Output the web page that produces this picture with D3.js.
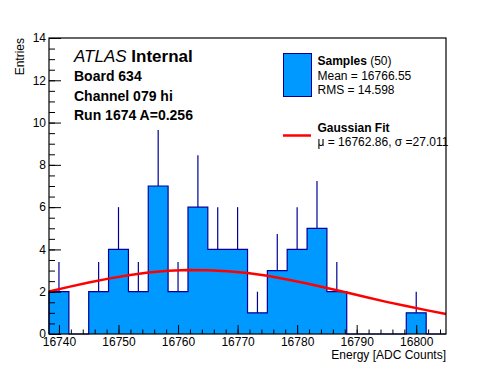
<!DOCTYPE html>
<html>
<head>
<meta charset="utf-8">
<script src="https://cdn.jsdelivr.net/npm/d3@7"></script>
<style>
  body { margin: 0; background: #fff; }
  text { font-family: "Liberation Sans", Arial, Helvetica, sans-serif; }
</style>
</head>
<body>
<div id="chart"></div>
<script>
// ---- histogram data ----
const binEdges = [16738.33, 16741.67, 16745, 16748.33, 16751.67, 16755, 16758.33, 16761.67,
                  16765, 16768.33, 16771.67, 16775, 16778.33, 16781.67, 16785, 16788.33,
                  16791.67, 16795, 16798.33, 16801.67, 16805];
const counts = [2, 0, 2, 4, 2, 7, 2, 6, 4, 4, 1, 3, 4, 5, 2, 0, 0, 0, 1, 0];
const errors = [1.41, 0, 1.41, 2, 1.41, 2.65, 1.41, 2.45, 2, 2, 1, 1.73, 2, 2.24, 1.41, 0, 0, 0, 1, 0];

// gaussian fit curve, sampled
const fitX = [16738.33, 16741.67, 16745, 16748.33, 16751.67, 16755, 16758.33, 16761.67,
              16765, 16768.33, 16771.67, 16775, 16778.33, 16781.67, 16785, 16788.33,
              16791.67, 16795, 16798.33, 16801.67, 16805];
const fitY = [2.01, 2.23, 2.44, 2.62, 2.78, 2.91, 2.99, 3.03, 3.02, 2.97, 2.88, 2.75, 2.58,
              2.39, 2.18, 1.96, 1.74, 1.52, 1.32, 1.13, 0.95];

const xMajor = [16740, 16750, 16760, 16770, 16780, 16790, 16800];
const yMajor = [0, 2, 4, 6, 8, 10, 12, 14];

const infoLines = ["Board 634", "Channel 079 hi", "Run 1674 A=0.256"];

const width = 496, height = 372;
const frame = {left: 49, right: 446, top: 38, bottom: 334};
const fillCol = "#0099ff", lineCol = "#000099";

const svg = d3.select("#chart").append("svg")
    .attr("width", width)
    .attr("height", height);

svg.append("rect").attr("width", width).attr("height", height).attr("fill", "#fff");

const x = d3.scaleLinear().domain([16738.33, 16805]).range([frame.left, frame.right]);
const y = d3.scaleLinear().domain([0, 14]).range([frame.bottom, frame.top]);

// histogram as stepped area + outline
const steps = binEdges.map((e, i) => ({x: e, n: i < counts.length ? counts[i] : counts[counts.length - 1]}));

svg.append("path")
    .datum(steps)
    .attr("fill", fillCol)
    .attr("d", d3.area().curve(d3.curveStepAfter).x(d => x(d.x)).y0(y(0)).y1(d => y(d.n)));

svg.append("path")
    .datum([{x: binEdges[0], n: 0}, ...steps, {x: binEdges[binEdges.length - 1], n: 0}])
    .attr("fill", "none")
    .attr("stroke", lineCol)
    .attr("stroke-width", 1.2)
    .attr("d", d3.line().curve(d3.curveStepAfter).x(d => x(d.x)).y(d => y(d.n)));

// error bars (upper half, the lower half is hidden in the fill)
svg.append("g")
    .selectAll("line")
    .data(counts.map((n, i) => ({n, e: errors[i], c: (binEdges[i] + binEdges[i + 1]) / 2})).filter(d => d.n > 0))
    .enter()
    .append("line")
    .attr("x1", d => x(d.c)).attr("x2", d => x(d.c))
    .attr("y1", d => y(d.n)).attr("y2", d => y(d.n + d.e))
    .attr("stroke", lineCol)
    .attr("stroke-width", 1.2);

// fit curve
svg.append("path")
    .datum(fitX.map((v, i) => [v, fitY[i]]))
    .attr("fill", "none")
    .attr("stroke", "#ff0000")
    .attr("stroke-width", 2.5)
    .attr("d", d3.line().x(d => x(d[0])).y(d => y(d[1])));

// axes
const xMinor = d3.range(16740, 16805, 2);
const yMinor = d3.range(0, 14.01, 0.5);

function styleAxis(g) {
    g.select(".domain").remove();
    g.selectAll("line").attr("stroke", "#000");
    g.selectAll("text").attr("fill", "#000").style("font-size", "12px")
        .style("font-family", "'Liberation Sans', Arial, sans-serif");
}

svg.append("g")
    .attr("transform", `translate(0,${frame.bottom})`)
    .call(d3.axisBottom(x).tickValues(xMinor).tickSize(-4.5).tickFormat(""))
    .call(styleAxis);
svg.append("g")
    .attr("transform", `translate(0,${frame.bottom})`)
    .call(d3.axisBottom(x).tickValues(xMajor).tickSize(-9).tickPadding(3).tickFormat(d3.format("d")))
    .call(styleAxis);

svg.append("g")
    .attr("transform", `translate(${frame.left},0)`)
    .call(d3.axisLeft(y).tickValues(yMinor).tickSize(-6).tickFormat(""))
    .call(styleAxis);
svg.append("g")
    .attr("transform", `translate(${frame.left},0)`)
    .call(d3.axisLeft(y).tickValues(yMajor).tickSize(-12).tickPadding(3).tickFormat(d3.format("d")))
    .call(styleAxis);

// frame
svg.append("rect")
    .attr("x", frame.left).attr("y", frame.top)
    .attr("width", frame.right - frame.left).attr("height", frame.bottom - frame.top)
    .attr("fill", "none").attr("stroke", "#000").attr("stroke-width", 1.2);

// axis titles
svg.append("text")
    .attr("x", frame.right).attr("y", 359)
    .attr("text-anchor", "end")
    .style("font-size", "12px")
    .text("Energy [ADC Counts]");

svg.append("text")
    .attr("transform", `translate(24,${frame.top}) rotate(-90)`)
    .attr("text-anchor", "end")
    .style("font-size", "12px")
    .text("Entries");

// ATLAS label
const atlas = svg.append("text").attr("x", 74).attr("y", 62).style("font-size", "17px");
atlas.append("tspan").style("font-style", "italic").text("ATLAS");
atlas.append("tspan").style("font-weight", "bold").text(" Internal");

infoLines.forEach((t, i) => {
    svg.append("text")
        .attr("x", 74).attr("y", 81 + i * 19.6)
        .style("font-size", "14px")
        .style("font-weight", "bold")
        .text(t);
});

// legend
svg.append("rect")
    .attr("x", 283.5).attr("y", 53.5).attr("width", 28).attr("height", 43)
    .attr("fill", fillCol).attr("stroke", lineCol).attr("stroke-width", 1);

const l1 = svg.append("text").attr("x", 317.5).attr("y", 65).style("font-size", "12px");
l1.append("tspan").style("font-weight", "bold").text("Samples");
l1.append("tspan").text(" (50)");
svg.append("text").attr("x", 317.5).attr("y", 79.5).style("font-size", "12px").text("Mean = 16766.55");
svg.append("text").attr("x", 317.5).attr("y", 93.5).style("font-size", "12px").text("RMS = 14.598");

svg.append("line")
    .attr("x1", 283).attr("x2", 311).attr("y1", 135.5).attr("y2", 135.5)
    .attr("stroke", "#ff0000").attr("stroke-width", 2.5);
svg.append("text").attr("x", 317.5).attr("y", 132).style("font-size", "12px")
    .style("font-weight", "bold").text("Gaussian Fit");
svg.append("text").attr("x", 317.5).attr("y", 146).style("font-size", "12px")
    .text("\u03bc = 16762.86, \u03c3 =27.011");
</script>
</body>
</html>
